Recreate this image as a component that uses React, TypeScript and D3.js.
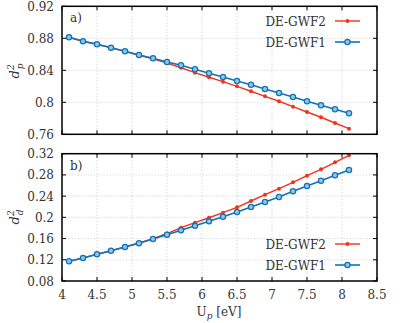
import React from "react";
import * as d3 from "d3";

const U = [4.1, 4.3, 4.5, 4.7, 4.9, 5.1, 5.3, 5.5, 5.7, 5.9, 6.1, 6.3, 6.5, 6.7, 6.9, 7.1, 7.3, 7.5, 7.7, 7.9, 8.1];
const dp2_GWF1 = [0.8813, 0.8763, 0.8725, 0.8683, 0.8638, 0.8591, 0.855, 0.8504, 0.8463, 0.8413, 0.8363, 0.8316, 0.8266, 0.822, 0.8166, 0.8116, 0.8066, 0.8013, 0.7963, 0.7913, 0.7863];
const dp2_GWF2 = [0.8813, 0.8763, 0.8725, 0.8683, 0.8636, 0.8588, 0.8542, 0.849, 0.8432, 0.837, 0.8313, 0.8258, 0.82, 0.8138, 0.8075, 0.8013, 0.7945, 0.7879, 0.7813, 0.7741, 0.767];
const dd2_GWF1 = [0.1171, 0.1234, 0.1303, 0.1371, 0.1441, 0.1511, 0.1592, 0.1673, 0.1756, 0.1840, 0.1925, 0.2012, 0.2101, 0.2195, 0.2289, 0.2384, 0.2491, 0.2591, 0.2691, 0.2793, 0.2893];
const dd2_GWF2 = [0.1171, 0.1234, 0.1303, 0.1371, 0.1443, 0.1520, 0.1600, 0.1695, 0.1805, 0.1899, 0.1993, 0.2088, 0.2189, 0.2308, 0.2427, 0.254, 0.2661, 0.2785, 0.2906, 0.3038, 0.317];
const xTicks = [4, 4.5, 5, 5.5, 6, 6.5, 7, 7.5, 8, 8.5];
const yTicksTop = [0.76, 0.8, 0.84, 0.88, 0.92];
const yTicksBot = [0.08, 0.12, 0.16, 0.2, 0.24, 0.28, 0.32];

const RED = "#f0341f";
const BLUE = "#0d74b8";
const FONT = "DejaVu Serif";

const L = 62, R = 377;
const x = d3.scaleLinear().domain([4, 8.5]).range([L, R]);

function fmt(v: number) {
  return String(+v.toFixed(2));
}

function Panel({ top, bottom, yDomain, yTicks, s1, s2, label, legendY, showXLabels }: any) {
  const y = d3.scaleLinear().domain(yDomain).range([bottom, top]);
  const line = d3.line<number>().x((_, i) => x(U[i])).y((d) => y(d));
  const tl = 4;
  return (
    <g>
      {xTicks.slice(1, -1).map((t) => (
        <line key={"gx" + t} x1={x(t)} x2={x(t)} y1={top} y2={bottom} stroke="#c8c8c8" strokeWidth={0.8} strokeDasharray="1.2,2" />
      ))}
      {yTicks.slice(1, -1).map((t: number) => (
        <line key={"gy" + t} x1={L} x2={R} y1={y(t)} y2={y(t)} stroke="#c8c8c8" strokeWidth={0.8} strokeDasharray="1.2,2" />
      ))}
      {xTicks.map((t) => (
        <g key={"tx" + t}>
          <line x1={x(t)} x2={x(t)} y1={bottom} y2={bottom - tl} stroke="#000" strokeWidth={1} />
          <line x1={x(t)} x2={x(t)} y1={top} y2={top + tl} stroke="#000" strokeWidth={1} />
          {showXLabels && (
            <text x={x(t)} y={bottom + 18} textAnchor="middle" fontSize={12} fontFamily={FONT} fill="#333">{fmt(t)}</text>
          )}
        </g>
      ))}
      {yTicks.map((t: number) => (
        <g key={"ty" + t}>
          <line x1={L} x2={L + tl} y1={y(t)} y2={y(t)} stroke="#000" strokeWidth={1} />
          <line x1={R} x2={R - tl} y1={y(t)} y2={y(t)} stroke="#000" strokeWidth={1} />
          <text x={L - 8} y={y(t) + 4.5} textAnchor="end" fontSize={12} fontFamily={FONT} fill="#333">{fmt(t)}</text>
        </g>
      ))}
      <path d={line(s2) || ""} fill="none" stroke={RED} strokeWidth={1.4} />
      {s2.map((v: number, i: number) => (
        <circle key={"r" + i} cx={x(U[i])} cy={y(v)} r={2} fill={RED} />
      ))}
      <path d={line(s1) || ""} fill="none" stroke={BLUE} strokeWidth={1.6} />
      {s1.map((v: number, i: number) => (
        <circle key={"b" + i} cx={x(U[i])} cy={y(v)} r={2.6} fill="#9cc4e0" stroke={BLUE} strokeWidth={1.3} />
      ))}
      <rect x={L} y={top} width={R - L} height={bottom - top} fill="none" stroke="#000" strokeWidth={1.5} />
      <text x={L + 8} y={top + 16} fontSize={12} fontFamily={FONT} fill="#333">{label}</text>
      <g>
        <text x={326} y={legendY + 4.5} textAnchor="end" fontSize={12} fontFamily={FONT} fill="#333">DE-GWF2</text>
        <line x1={335} x2={360} y1={legendY} y2={legendY} stroke={RED} strokeWidth={1.4} />
        <circle cx={347.5} cy={legendY} r={2} fill={RED} />
        <text x={326} y={legendY + 21 + 4.5} textAnchor="end" fontSize={12} fontFamily={FONT} fill="#333">DE-GWF1</text>
        <line x1={335} x2={360} y1={legendY + 21} y2={legendY + 21} stroke={BLUE} strokeWidth={1.6} />
        <circle cx={347.5} cy={legendY + 21} r={2.6} fill="#9cc4e0" stroke={BLUE} strokeWidth={1.3} />
      </g>
    </g>
  );
}

export default function App() {
  return (
    <svg width={415} height={323} style={{ position: "absolute", left: 0, top: 0, background: "#fff" }}>
      <rect width={415} height={323} fill="#fff" />
      <Panel top={6.3} bottom={134.3} yDomain={[0.76, 0.92]} yTicks={yTicksTop} s1={dp2_GWF1} s2={dp2_GWF2} label="a)" legendY={21} showXLabels={false} />
      <Panel top={153.7} bottom={281} yDomain={[0.08, 0.32]} yTicks={yTicksBot} s1={dd2_GWF1} s2={dd2_GWF2} label="b)" legendY={244} showXLabels={true} />
      <g transform="translate(19,71) rotate(-90)" fontFamily={FONT} fill="#333">
        <text textAnchor="middle" fontSize={13} fontStyle="italic">d<tspan fontSize={9} dy={-5}>2</tspan><tspan fontSize={9} dx={-5} dy={9}>p</tspan></text>
      </g>
      <g transform="translate(19,217) rotate(-90)" fontFamily={FONT} fill="#333">
        <text textAnchor="middle" fontSize={13} fontStyle="italic">d<tspan fontSize={9} dy={-5}>2</tspan><tspan fontSize={9} dx={-5} dy={9}>d</tspan></text>
      </g>
      <text x={219} y={316} textAnchor="middle" fontSize={12} fontFamily={FONT} fill="#333">U<tspan fontSize={9} dy={3} fontStyle="italic">p</tspan><tspan dy={-3}> [eV]</tspan></text>
    </svg>
  );
}
